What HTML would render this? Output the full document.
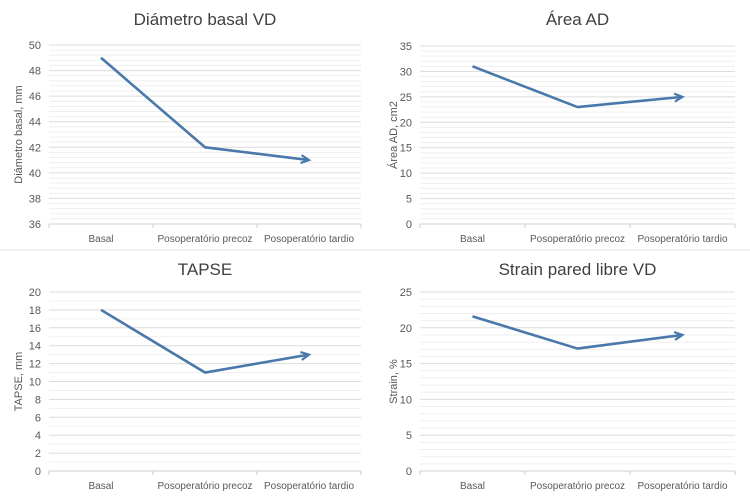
<!DOCTYPE html>
<html><head><meta charset="utf-8"><style>
html,body{margin:0;padding:0;background:#fff;}
svg{display:block;font-family:"Liberation Sans",sans-serif;}
</style></head><body>
<svg id="svg" width="750" height="500"></svg>
<script>
const categories = ["Basal","Posoperatório precoz","Posoperatório tardio"];
const diametroValues = [49, 42, 41];
const areaValues = [31, 23, 25];
const tapseValues = [18, 11, 13];
const strainValues = [21.6, 17.1, 19];
const diametroTicks = [36,38,40,42,44,46,48,50];
const areaTicks = [0,5,10,15,20,25,30,35];
const tapseTicks = [0,2,4,6,8,10,12,14,16,18,20];
const strainTicks = [0,5,10,15,20,25];

const NS="http://www.w3.org/2000/svg";
const svg=document.getElementById('svg');
function mk(t,a,p){const e=document.createElementNS(NS,t);for(const k in a)e.setAttribute(k,a[k]);(p||svg).appendChild(e);return e;}

// panel separators
const sep1=mk('line',{x1:0,y1:250,x2:750,y2:250,stroke:'#e6e6e6','stroke-width':1});



const panels=[
 {name:'diametro',title:'Diámetro basal VD',ytitle:'Diámetro basal, mm',vals:diametroValues,ticks:diametroTicks,x0:49,x1:361,yTop:45,yBot:224,ox:0,oy:0,minor:5},
 {name:'area',title:'Área AD',ytitle:'Área AD, cm2',vals:areaValues,ticks:areaTicks,x0:420,x1:735,yTop:46,yBot:224,ox:375,oy:0,minor:5},
 {name:'tapse',title:'TAPSE',ytitle:'TAPSE, mm',vals:tapseValues,ticks:tapseTicks,x0:49,x1:361,yTop:292,yBot:471,ox:0,oy:250,minor:2},
 {name:'strain',title:'Strain pared libre VD',ytitle:'Strain, %',vals:strainValues,ticks:strainTicks,x0:420,x1:735,yTop:292,yBot:471,ox:375,oy:250,minor:5}
];
panels.forEach(p=>{
 const g=mk('g',{});
 
 
 const lo=p.ticks[0],hi=p.ticks[p.ticks.length-1];
 const y=v=>p.yBot-(v-lo)/(hi-lo)*(p.yBot-p.yTop);
 const band=(p.x1-p.x0)/categories.length;
 const x=i=>p.x0+band*(i+0.5);
 // minor grid
 for(let i=0;i<p.ticks.length-1;i++){
   const a=p.ticks[i],b=p.ticks[i+1];
   for(let k=1;k<p.minor;k++){const v=a+(b-a)*k/p.minor;
     mk('line',{x1:p.x0,x2:p.x1,y1:y(v),y2:y(v),stroke:'#efefef','stroke-width':1},g);}
 }
 p.ticks.forEach(t=>{
   const l=mk('line',{x1:p.x0,x2:p.x1,y1:y(t),y2:y(t),stroke:t===lo?'#cfcfcf':'#dcdcdc','stroke-width':1},g);
   
   
   const tx=mk('text',{x:p.x0-8,y:y(t)+4,'text-anchor':'end','font-size':11,fill:'#595959'},g);
   tx.textContent=t;
   
   
 });
 for(let i=0;i<=categories.length;i++){
   mk('line',{x1:p.x0+band*i,x2:p.x0+band*i,y1:p.yBot,y2:p.yBot+4,stroke:'#cfcfcf'},g);
 }
 categories.forEach((c,i)=>{
   const t=mk('text',{x:x(i),y:p.yBot+18,'text-anchor':'middle','font-size':10,fill:'#595959'},g);
   t.textContent=c;
   
   
 });
 const ti=mk('text',{x:(p.x0+p.x1)/2,y:p.oy+25,'text-anchor':'middle','font-size':17,fill:'#404040'},g);
 ti.textContent=p.title;
 
 
 const cy=(p.yTop+p.yBot)/2;
 const yt=mk('text',{x:p.ox+22,y:cy,'text-anchor':'middle','font-size':11,fill:'#595959',transform:`rotate(-90 ${p.ox+22} ${cy})`},g);
 yt.textContent=p.ytitle;
 
 
 const pts=p.vals.map((v,i)=>[x(i),y(v)]);
 const pl=mk('polyline',{points:pts.map(q=>q.join(',')).join(' '),fill:'none',stroke:'#4a78ab','stroke-width':2.6,'stroke-linejoin':'round'},g);
 
 
 const [ax,ay]=pts[pts.length-1],[bx,by]=pts[pts.length-2];
 const ang=Math.atan2(ay-by,ax-bx);
 const L=8,W=4;
 const p1=[ax-L*Math.cos(ang)+W*Math.sin(ang),ay-L*Math.sin(ang)-W*Math.cos(ang)];
 const p2=[ax-L*Math.cos(ang)-W*Math.sin(ang),ay-L*Math.sin(ang)+W*Math.cos(ang)];
 const ar=mk('polyline',{points:`${p1} ${ax},${ay} ${p2}`,fill:'none',stroke:'#4a78ab','stroke-width':2.2},g);
 
 
});
</script>
</body></html>
